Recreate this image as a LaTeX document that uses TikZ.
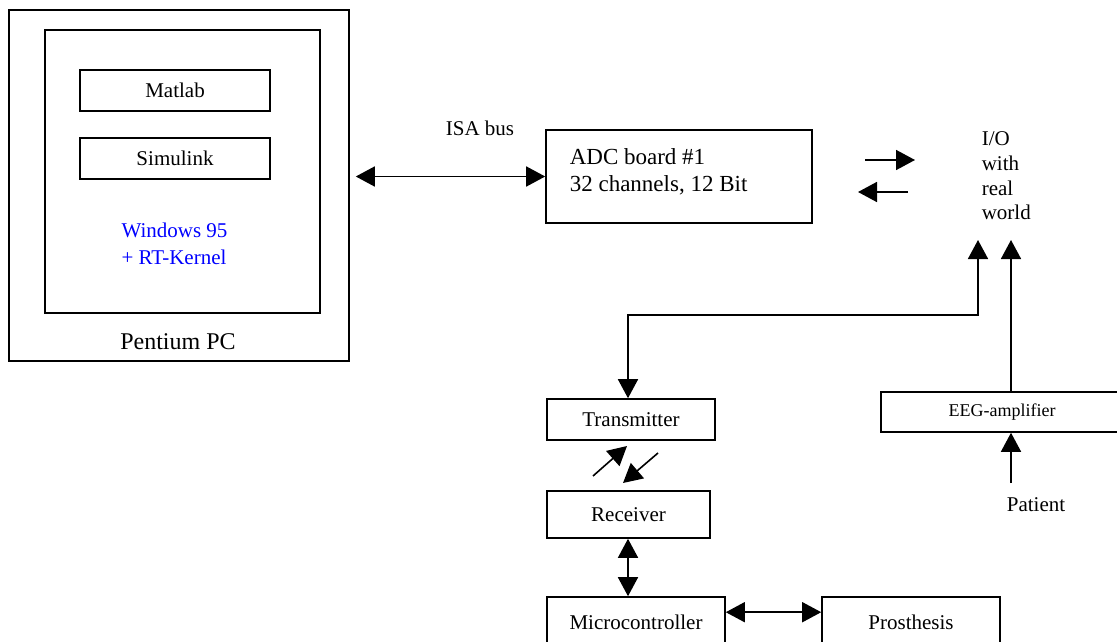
\documentclass[tikz,border=0pt]{standalone}
\usepackage{fontspec}
\setmainfont{Liberation Serif}
\usetikzlibrary{arrows.meta,calc}
\definecolor{winblue}{RGB}{0,0,255}
\begin{document}
\begin{tikzpicture}[x=1pt,y=-1pt,line width=1.6pt,
  every node/.style={font=\fontsize{21}{25}\selectfont,inner sep=0pt},
  blk/.style={draw,line width=1.6pt,rectangle},
  tip/.style={-{Triangle[length=19pt,width=20pt]}},
  dtip/.style={{Triangle[length=19pt,width=20pt]}-{Triangle[length=19pt,width=20pt]}}]
\useasboundingbox (0,0) rectangle (1117,642);
\clip (0,0) rectangle (1117,642);
% Pentium PC
\node[blk,minimum width=340pt,minimum height=351pt] (pc) at (179,185.5) {};
\node[blk,minimum width=275pt,minimum height=283pt] (inner) at (182.5,171.5) {};
\node[blk,minimum width=190pt,minimum height=41pt] (matlab) at (175,90.5) {Matlab};
\node[blk,minimum width=190pt,minimum height=41pt] (simulink) at (175,158.5) {Simulink};
\node[align=left,text=winblue,font=\fontsize{21}{27}\selectfont] (win) at (174.5,243.5) {Windows 95\\+ RT-Kernel};
\node[font=\fontsize{24}{28}\selectfont] (pclabel) at (178,342) {Pentium PC};
% ADC
\node[blk,minimum width=266pt,minimum height=93pt] (adc) at (679,176.5) {};
\node[anchor=west,align=left,font=\fontsize{23}{27}\selectfont] (adctext) at (569,171.5) {ADC board \#1\\32 channels, 12 Bit};
\node (isa) at (480,128) {ISA bus};
\draw[dtip] ($(pc.east|-adc.west)+(6,0)$) -- (adc.west);
% I/O
\node[anchor=west,align=left,font=\fontsize{21}{24.7}\selectfont] (io) at (981,176) {I/O\\with\\real\\world};
\coordinate (o1) at (865,160);
\coordinate (o2) at (915,160);
\coordinate (i1) at (908,192);
\coordinate (i2) at (858,192);
\draw[tip] (o1) -- (o2);
\draw[tip] (i1) -- (i2);
% Transmitter / Receiver
\node[blk,minimum width=168pt,minimum height=41pt] (tx) at (631,419.5) {Transmitter};
\node[blk,minimum width=163pt,minimum height=47pt] (rx) at (628.5,514.5) {Receiver};
\coordinate (ioin1) at (978,240);
\coordinate (ioin2) at (1011,240);
\draw[dtip] (ioin1) -- (978,315) -- (628,315) -- ($(tx.north)+(-3,0)$);
\coordinate (d1s) at (593,476);
\coordinate (d1e) at (627,446);
\coordinate (d2s) at (658,453);
\coordinate (d2e) at (623,483);
\draw[tip] (d1s) -- (d1e);
\draw[tip] (d2s) -- (d2e);
% EEG
\node[blk,minimum width=242pt,minimum height=40pt,font=\fontsize{18}{22}\selectfont] (eeg) at (1002,412) {EEG-amplifier};
\draw[tip] (eeg.north-|ioin2) -- (ioin2);
\node (patient) at (1036,505) {Patient};
\draw[tip] (1011,483) -- (eeg.south-|ioin2);
% Microcontroller / Prosthesis
\node[blk,minimum width=178pt,minimum height=50pt] (mc) at (636,622) {Microcontroller};
\node[blk,minimum width=178pt,minimum height=50pt] (pr) at (911,622) {Prosthesis};
\draw[dtip] (rx.south-|628,0) -- (mc.north-|628,0);
\draw[dtip] ($(mc.north east)+(0,16)$) -- ($(pr.north west)+(0,16)$);
\end{tikzpicture}
\end{document}
